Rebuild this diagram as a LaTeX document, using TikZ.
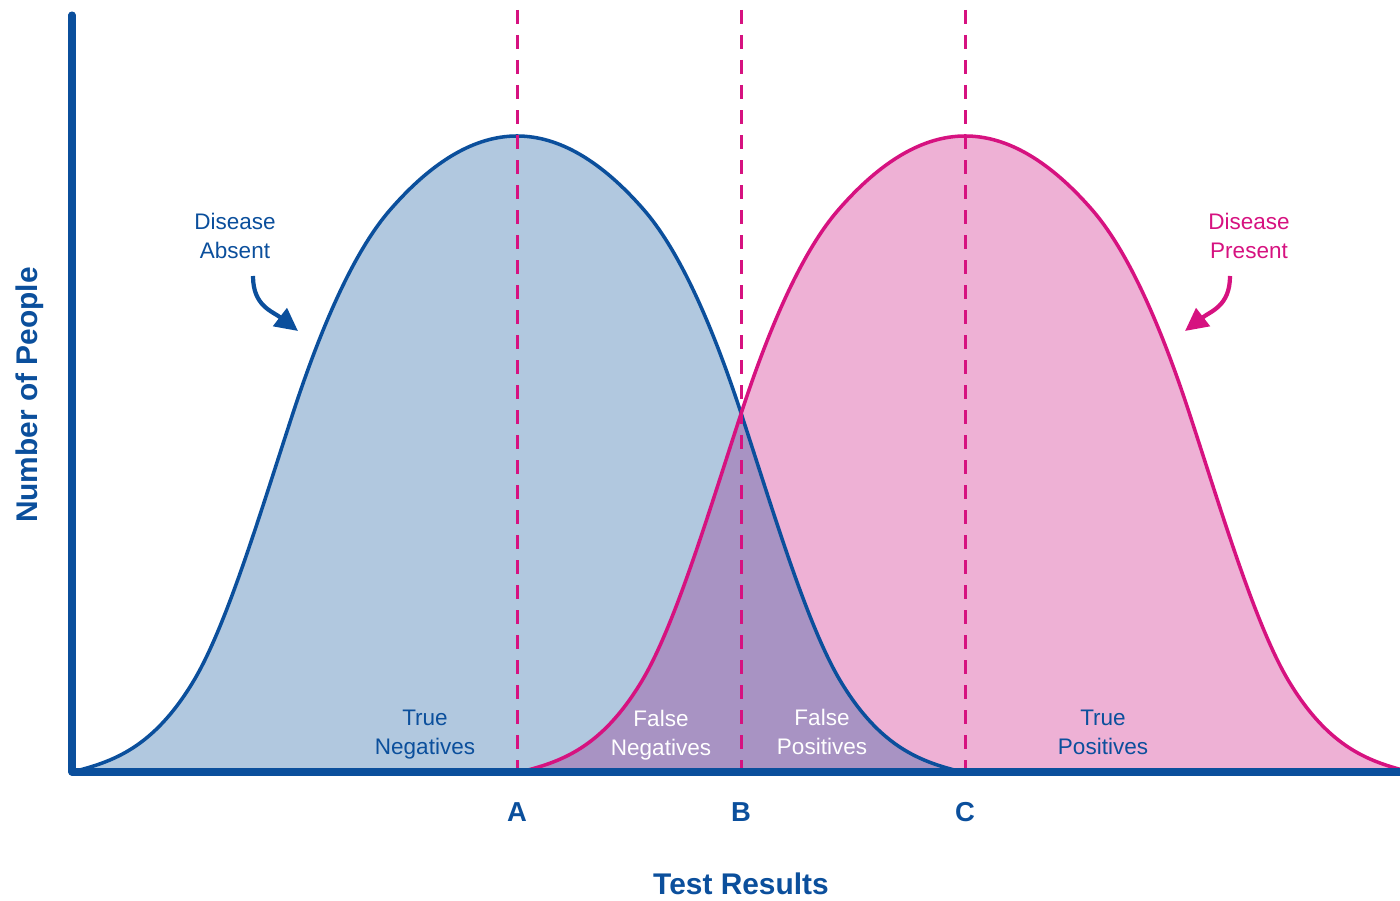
\documentclass[tikz,border=0pt]{standalone}
\usepackage{fontspec}
\setmainfont{Liberation Sans}
\usetikzlibrary{arrows.meta}

\definecolor{absentblue}{RGB}{11,79,156}
\definecolor{absentfill}{RGB}{177,200,223}
\definecolor{presentpink}{RGB}{214,18,128}
\definecolor{presentfill}{RGB}{238,177,213}
\definecolor{overlapfill}{RGB}{168,147,195}

% one bell, centred on A; the second one is the same bell moved to C
\def\bellcurve{(72,772) .. controls (112.3,761.9) and (152.7,748.5) .. (193,682)
	.. controls (226.3,627) and (259.7,514.7) .. (293,413)
	.. controls (325.3,314.4) and (357.7,247.2) .. (390,210)
	.. controls (432.3,161.3) and (474.7,136) .. (517,136)
	.. controls (559.3,136) and (601.7,161.3) .. (644,210)
	.. controls (676.3,247.2) and (708.7,314.4) .. (741,413)
	.. controls (774.3,514.7) and (807.7,627) .. (841,682)
	.. controls (881.3,748.5) and (921.7,761.9) .. (962,772)}

\begin{document}
\begin{tikzpicture}[
		x = 0.01cm, y = -0.01cm, % one unit = one pixel, y going down
		axis/.style = {line width=2pt, absentblue, line cap=round, line join=round},
		absentline/.style = {line width=1pt, absentblue},
		presentline/.style = {line width=1pt, presentpink},
		cutline/.style = {line width=0.85pt, presentpink, dash pattern=on 3.98pt off 3.13pt},
		pointer/.style = {line width=1.2pt, -{Triangle[length=6.5pt,width=6.3pt]}},
		lbl/.style = {font=\fontsize{6.4}{8.25}\selectfont, align=center, inner sep=0pt},
		tick/.style = {font=\fontsize{7.8}{9}\selectfont\bfseries, text=absentblue, inner sep=0pt},
		title/.style = {font=\fontsize{8.5}{10}\selectfont\bfseries, text=absentblue, inner sep=0pt}
		]
		
		\useasboundingbox (0,0) rectangle (1400,901);
		\clip (0,0) rectangle (1400,901);
		
		% areas under the bells
		\fill[absentfill] \bellcurve -- cycle;
		\fill[presentfill, xshift=4.48cm] \bellcurve -- cycle;
		\begin{scope}
			\clip \bellcurve -- cycle;
			\fill[overlapfill, xshift=4.48cm] \bellcurve -- cycle;
		\end{scope}
		
		% outlines
		\draw[absentline] \bellcurve;
		\draw[presentline, xshift=4.48cm] \bellcurve;
		
		% cut-off lines and their letters
		\foreach \nm/\xx in {A/517,B/741,C/965} {
			\coordinate (top\nm) at (\xx,-15);
			\coordinate (base\nm) at (\xx,772);
			\draw[cutline] (top\nm) -- (base\nm);
			\node[tick] (l\nm) at (\xx,812.5) {\nm};
		}
		
		% axes
		\coordinate (origin) at (72,772);
		\coordinate (ytop) at (72,15);
		\coordinate (xend) at (1420,772);
		\draw[axis] (ytop) -- (origin) -- (xend);
		
		\node[title] (lX) at (741,883.5) {Test Results};
		\node[title, rotate=90] (lY) at (30,395) {Number of People};
		
		% the two groups
		\node[lbl, text=absentblue] (lAbsent) at (235,236) {Disease\\Absent};
		\node[lbl, text=presentpink] (lPresent) at (1249,236) {Disease\\Present};
		\coordinate (absFrom) at (253,276);
		\coordinate (absTo) at (298,331);
		\coordinate (preFrom) at (1230,276);
		\coordinate (preTo) at (1185,331);
		\draw[pointer, absentblue] (absFrom) .. controls (253,306) and (272,311) .. (absTo);
		\draw[pointer, presentpink] (preFrom) .. controls (1230,306) and (1211,311) .. (preTo);
		
		% the four outcomes
		\node[lbl, text=absentblue] (lTN) at (425,735) {True\\Negatives};
		\node[lbl, text=white] (lFN) at (661,735) {False\\Negatives};
		\node[lbl, text=white] (lFP) at (822,732) {False\\Positives};
		\node[lbl, text=absentblue] (lTP) at (1103,732) {True\\Positives};
	\end{tikzpicture}
\end{document}
